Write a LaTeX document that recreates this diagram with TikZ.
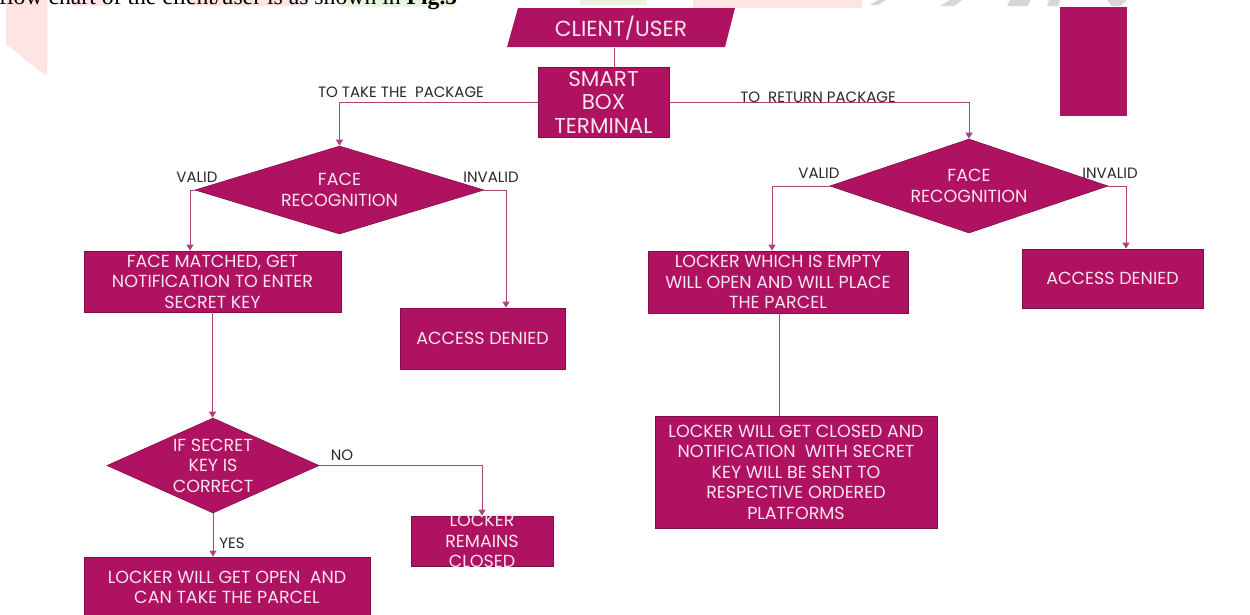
\documentclass[tikz,border=0pt]{standalone}
\usepackage{fontspec}
\setmainfont{Poppins}
\newfontfamily\serifx{Liberation Serif}
\usetikzlibrary{shapes.geometric,arrows.meta,calc}
\definecolor{mag}{RGB}{176,18,98}
\definecolor{magedge}{RGB}{128,14,70}
\definecolor{lnc}{RGB}{172,66,128}
\definecolor{boxtxt}{RGB}{246,228,238}
\definecolor{lbl}{RGB}{40,40,40}
\definecolor{hlpink}{RGB}{255,228,228}
\definecolor{hlgreen}{RGB}{234,245,224}
\definecolor{swoosh}{RGB}{214,214,214}
\begin{document}
\begin{tikzpicture}[x=1pt,y=-1pt,
 proc/.style={rectangle, fill=mag, draw=magedge, line width=0.8pt, inner sep=0pt},
 dec/.style={diamond, fill=mag, draw=magedge, line width=0.6pt, inner sep=0pt},
 btxt/.style={text=boxtxt, align=center, inner sep=0pt, font=\fontsize{17.5}{20.5}\selectfont},
 lab/.style={text=lbl, inner sep=0pt, font=\fontsize{15}{17}\selectfont},
 conn/.style={draw=lnc, line width=1pt},
 arr/.style={conn, -{Triangle[length=6pt,width=7pt]}}
]
\clip (0,0) rectangle (1250,614);
\fill[white] (0,0) rectangle (1250,614);
% page artefacts
\fill[hlpink] (72,0) rectangle (108,6);
\fill[hlpink] (188,0) rectangle (308,6);
\fill[hlgreen] (342,0) rectangle (455,7);
\fill[hlgreen] (580,0) rectangle (647,5);
\fill[hlpink] (693,0) rectangle (862,8);
\fill[hlpink] (6,0) -- (47,0) -- (47,75) -- (38,70) -- (10,47) -- (6,45) -- cycle;
\fill[swoosh] (870,5) -- (878,0) -- (886,0) -- (878,5) -- cycle;
\fill[swoosh] (940,6) -- (950,0) -- (962,0) -- (954,6) -- cycle;
\fill[swoosh] (1007,6) -- (1010,0) -- (1030,0) -- (1028,6) -- cycle;
\fill[swoosh] (1047,6) -- (1049,0) -- (1060,0) -- (1058,6) -- cycle;
\fill[swoosh] (1107,0) -- (1127,0) -- (1120,6) -- (1112,6) -- cycle;
\node[anchor=base west, inner sep=0pt, font=\serifx\fontsize{23.7}{24}\selectfont, text=black] (cap) at (-1,4.5) {flow chart of the client/user is as shown in \textbf{Fig.5}};

% decorative block
\node[proc, draw=none, minimum width=67, minimum height=109] (deco) at (1093.5,61.5) {};

% client
\fill[mag] (507,47) -- (518,8) -- (735,8) -- (725,47) -- cycle;
\node[btxt, font=\fontsize{21.8}{24}\selectfont, minimum height=39] (client) at (621,28) {CLIENT/USER};

% boxes
\node[proc, minimum width=131, minimum height=70, label={[btxt, font=\fontsize{21.5}{23.5}\selectfont]center:{SMART\\BOX\\TERMINAL}}] (smart) at (603.5,102) {};
\node[dec, minimum width=289, minimum height=88, label={[btxt]center:{FACE\\RECOGNITION}}] (d1) at (339.5,190) {};
\node[dec, minimum width=212, minimum height=95, label={[btxt]center:{IF SECRET\\KEY IS\\CORRECT}}] (d2) at (213,465.5) {};
\node[dec, minimum width=278, minimum height=94, label={[btxt]center:{FACE\\RECOGNITION}}] (d3) at (969,186) {};
\node[proc, minimum width=257, minimum height=61, label={[btxt]center:{FACE MATCHED, GET\\NOTIFICATION TO ENTER\\SECRET KEY}}] (fm) at (212.5,281.5) {};
\node[proc, minimum width=165, minimum height=61, label={[btxt]center:{ACCESS DENIED}}] (ad1) at (482.5,338.5) {};
\node[proc, minimum width=142, minimum height=50, label={[btxt]center:{LOCKER\\REMAINS\\CLOSED}}] (lrc) at (482,541) {};
\node[proc, minimum width=286, minimum height=61, label={[btxt]center:{LOCKER WILL GET OPEN\ \ AND\\CAN TAKE THE PARCEL}}] (lop) at (227,587.5) {};
\node[proc, minimum width=260, minimum height=62, label={[btxt]center:{LOCKER WHICH IS EMPTY\\WILL OPEN AND WILL PLACE\\THE PARCEL}}] (lwe) at (778,282) {};
\node[proc, minimum width=181, minimum height=59, label={[btxt]center:{ACCESS DENIED}}] (ad2) at (1112.5,278.5) {};
\node[proc, minimum width=282, minimum height=112, label={[btxt]center:{LOCKER WILL GET CLOSED AND\\NOTIFICATION\ \ WITH SECRET\\KEY WILL BE SENT TO\\RESPECTIVE ORDERED\\PLATFORMS}}] (lgc) at (796,472) {};

% connectors
\draw[conn] ([xshift=-7pt]client.south) -- ([xshift=-7pt]client.south |- smart.north);
\draw[arr] (smart.west) -| (d1.north);
\draw[arr] (smart.east) -| (d3.north);
\draw[arr] (d1.west) -| ($(fm.north)+(-22.5,0)$);
\draw[arr] (d1.east) -| ($(ad1.north)+(23.5,0)$);
\draw[arr] (fm.south) -- (fm.south |- d2.north);
\draw[arr] (d2.east) -| (lrc.north);
\draw[arr] (d2.south) -- (d2.south |- lop.north);
\draw[arr] (d3.west) -| ($(lwe.north)+(-6,0)$);
\draw[arr] (d3.east) -| ($(ad2.north)+(13.5,0)$);
\draw[conn] ([xshift=1pt]lwe.south) -- ([xshift=1pt]lwe.south |- lgc.north);

% labels
\node[lab] (ltake) at (401,92) {TO TAKE THE\ \ PACKAGE};
\node[lab] (lret) at (818,97) {TO\ \ RETURN PACKAGE};
\node[lab] (lv1) at (197,177) {VALID};
\node[lab] (li1) at (491,177) {INVALID};
\node[lab] (lv2) at (819,173) {VALID};
\node[lab] (li2) at (1110,173) {INVALID};
\node[lab] (lno) at (342,455) {NO};
\node[lab] (lyes) at (232,543) {YES};
\end{tikzpicture}
\end{document}
